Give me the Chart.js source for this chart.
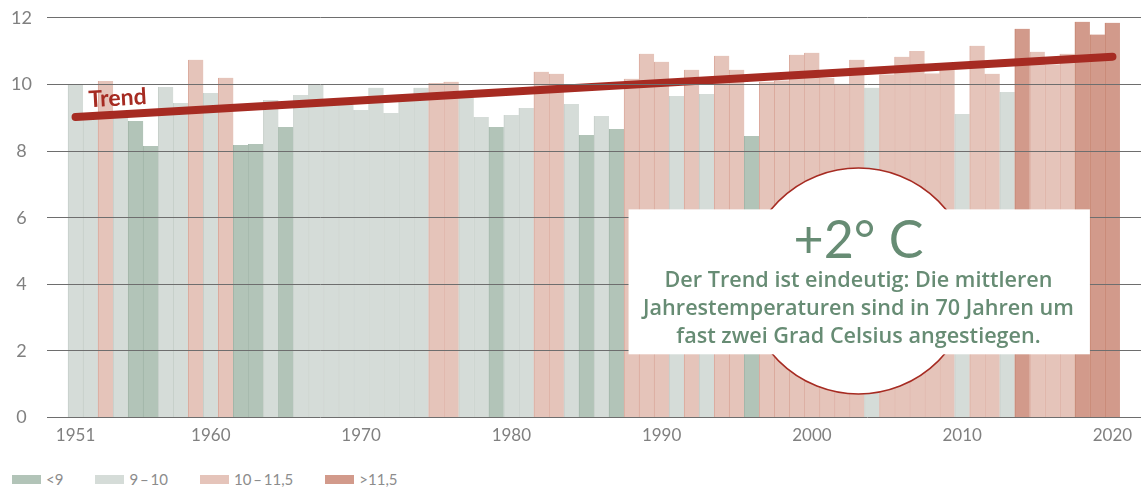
<!DOCTYPE html>
<html lang="de">
<head>
<meta charset="utf-8">
<title>Jahresmitteltemperatur 1951–2020</title>
<script src="https://cdn.jsdelivr.net/npm/chart.js@4"></script>
<style>
  html, body { margin: 0; padding: 0; background: #fff; }
  body { width: 1141px; height: 492px; position: relative; overflow: hidden; font-family: Lato, "Open Sans", sans-serif; }
  #wrap { position: absolute; left: 0; top: -8px; width: 1141px; height: 470px; }
  #legend { position: absolute; left: 12px; top: 470px; display: flex; align-items: center; color: #8c8c8c; font-size: 15px; }
  .item { display: flex; align-items: center; margin-right: 32px; }
  .swatch { width: 29px; height: 9px; margin-right: 5px; }
</style>
</head>
<body>
<div id="wrap"><canvas id="temp-chart"></canvas></div>
<div id="legend"></div>
<script>
const years = [1951, 1952, 1953, 1954, 1955, 1956, 1957, 1958, 1959, 1960,
               1961, 1962, 1963, 1964, 1965, 1966, 1967, 1968, 1969, 1970,
               1971, 1972, 1973, 1974, 1975, 1976, 1977, 1978, 1979, 1980,
               1981, 1982, 1983, 1984, 1985, 1986, 1987, 1988, 1989, 1990,
               1991, 1992, 1993, 1994, 1995, 1996, 1997, 1998, 1999, 2000,
               2001, 2002, 2003, 2004, 2005, 2006, 2007, 2008, 2009, 2010,
               2011, 2012, 2013, 2014, 2015, 2016, 2017, 2018, 2019, 2020];
const temps = [9.98, 9.05, 10.1, 9.05, 8.9, 8.15, 9.92, 9.44, 10.74, 9.74,
               10.2, 8.18, 8.21, 9.53, 8.72, 9.68, 9.99, 9.38, 9.4, 9.23,
               9.9, 9.14, 9.5, 9.9, 10.04, 10.08, 9.6, 9.02, 8.72, 9.08,
               9.29, 10.38, 10.32, 9.41, 8.48, 9.05, 8.66, 10.17, 10.92, 10.68,
               9.65, 10.44, 9.71, 10.86, 10.44, 8.45, 10.08, 10.12, 10.89, 10.95,
               10.2, 10.02, 10.74, 9.9, 10.3, 10.83, 11.0, 10.33, 10.45, 9.11,
               11.16, 10.32, 9.77, 11.67, 10.98, 10.6, 10.92, 11.88, 11.5, 11.85];
const trendYears = [1951, 2020];
const trendValues = [9.02, 10.83];
const tickYears = [1951, 1960, 1970, 1980, 1990, 2000, 2010, 2020];
const yTicks = [0, 2, 4, 6, 8, 10, 12];
const classLabels = ['<9', '9\u2009–\u200910', '10\u2009–\u200911,5', '>11,5'];
const classLimits = [9, 10, 11.5];
const classColors = ['#b2c4b8', '#d5dcd8', '#e5c4ba', '#d29a8b'];
const classBorders = ['#a2b6a9', '#c6cec9', '#dbaa9d', '#c5836f'];
const headline = '+2° C';
const noteLines = ['Der Trend ist eindeutig: Die mittleren',
                   'Jahrestemperaturen sind in 70 Jahren um',
                   'fast zwei Grad Celsius angestiegen.'];

const RED = '#a62b22';
const GREEN = '#678c74';

const classOf = (v) => {
    let i = 0;
    while (i < classLimits.length && v >= classLimits[i]) i++;
    return i;
};

// "Trend" label along the trend line
const trendLabel = {
    id: 'trendLabel',
    afterDraw(chart) {
        const { ctx, scales: { x, y } } = chart;
        const x0 = x.getPixelForValue(trendYears[0]), y0 = y.getPixelForValue(trendValues[0]);
        const x1 = x.getPixelForValue(trendYears[1]), y1 = y.getPixelForValue(trendValues[1]);
        ctx.save();
        ctx.translate(x0, y0);
        ctx.rotate(Math.atan2(y1 - y0, x1 - x0));
        ctx.font = '700 23px Lato';
        ctx.fillStyle = RED;
        ctx.textAlign = 'left';
        ctx.fillText('Trend', 14, -9);
        ctx.restore();
    }
};

// circle + white box with the note
const noteBox = {
    id: 'noteBox',
    afterDraw(chart) {
        const { ctx, scales: { x, y } } = chart;
        const cx = x.getPixelForValue(2003.1), cy = y.getPixelForValue(4.1);
        ctx.save();
        ctx.beginPath();
        ctx.arc(cx, cy, 113, 0, Math.PI * 2);
        ctx.fillStyle = '#fff';
        ctx.fill();
        ctx.lineWidth = 1.5;
        ctx.strokeStyle = RED;
        ctx.stroke();
        const bx0 = x.getPixelForValue(1987.8), bx1 = x.getPixelForValue(2018.5);
        const by0 = y.getPixelForValue(6.25), by1 = y.getPixelForValue(1.9);
        ctx.fillRect(bx0, by0, bx1 - bx0, by1 - by0);
        ctx.fillStyle = GREEN;
        ctx.textAlign = 'center';
        ctx.font = '400 52px Lato';
        ctx.fillText(headline, cx, by0 + 49);
        ctx.font = '600 21.6px "Open Sans"';
        noteLines.forEach((t, i) => ctx.fillText(t, cx, by0 + 78 + i * 28));
        ctx.restore();
    }
};

const $legend = document.getElementById('legend');
classLabels.forEach((lab, i) => {
    const item = document.createElement('div');
    item.className = 'item';
    item.innerHTML = `<span class="swatch" style="background:${classColors[i]}"></span><span>${lab}</span>`;
    $legend.appendChild(item);
});

const ctx = document.getElementById('temp-chart').getContext('2d');

const tempChart = new Chart(ctx, {
    data: {
        datasets: [{
            type: 'line',
            label: 'Trend',
            data: trendYears.map((yr, i) => ({ x: yr, y: trendValues[i] })),
            borderColor: RED,
            borderWidth: 8,
            borderCapStyle: 'round',
            pointRadius: 0,
            order: 0
        }, {
            type: 'bar',
            label: 'Jahresmittel',
            data: years.map((yr, i) => ({ x: yr, y: temps[i] })),
            backgroundColor: temps.map(v => classColors[classOf(v)]),
            borderColor: temps.map(v => classBorders[classOf(v)]),
            borderWidth: { left: 1, right: 0, top: 0, bottom: 0 },
            borderSkipped: false,
            barPercentage: 1,
            categoryPercentage: 1,
            order: 1
        }]
    },
    options: {
        responsive: true,
        maintainAspectRatio: false,
        animation: false,
        layout: { padding: { top: 0, right: 0, bottom: 8, left: 0 } },
        scales: {
            x: {
                type: 'linear',
                offset: false,
                min: 1949.1,
                max: 2021.9,
                grid: { display: false, drawTicks: false },
                border: { display: false },
                afterBuildTicks: (s) => { s.ticks = tickYears.map(v => ({ value: v })); },
                ticks: {
                    autoSkip: false,
                    maxRotation: 0,
                    padding: 8,
                    color: '#808080',
                    font: { family: 'Lato', size: 17 },
                    callback: (v) => String(v)
                }
            },
            y: {
                min: 0,
                max: 12,
                afterBuildTicks: (s) => { s.ticks = yTicks.map(v => ({ value: v })); },
                afterFit: (s) => { s.width = 47; },
                grid: { color: '#6e6e6e', lineWidth: 1, drawTicks: false, z: 1 },
                border: { display: false },
                ticks: {
                    crossAlign: 'center',
                    padding: 15,
                    color: '#808080',
                    font: { family: 'Lato', size: 18 }
                }
            }
        },
        plugins: {
            legend: { display: false },
            tooltip: { enabled: false }
        }
    },
    plugins: [trendLabel, noteBox]
});
</script>
</body>
</html>
